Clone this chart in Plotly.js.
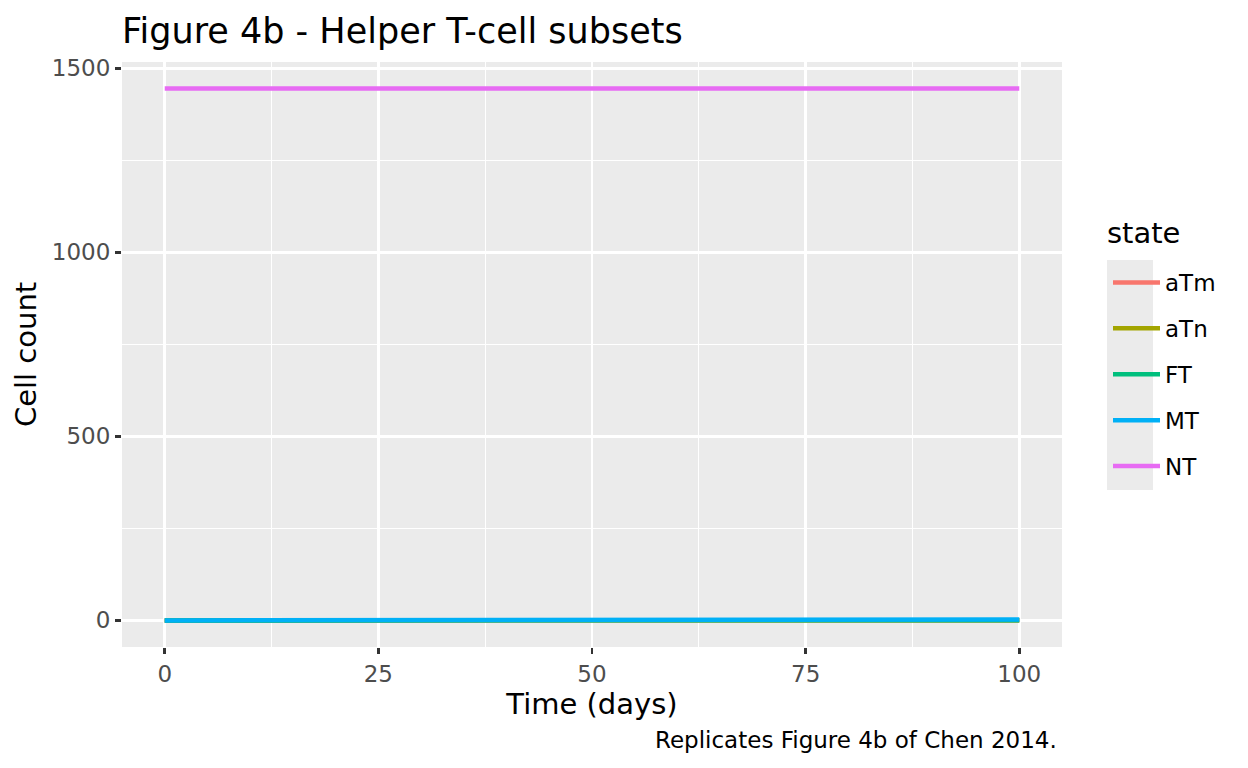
<!DOCTYPE html>
<html>
<head>
<meta charset="utf-8">
<script src="https://cdn.plot.ly/plotly-3.0.1.min.js"></script>
<style>html,body{margin:0;padding:0;background:#fff;}#chart{width:1248px;height:768px;}</style>
</head>
<body>
<div id="chart"></div>
<script>
const time = [0, 10, 20, 30, 40, 50, 60, 70, 80, 90, 95, 100];
const aTm = [0, 0, 0, 0, 0, 0, 0, 0, 0, 0.1, 0.2, 0.4];
const aTn = [0, 0, 0, 0, 0, 0, 0, 0, 0, 0.1, 0.2, 0.3];
const FT  = [0, 0, 0, 0, 0, 0, 0, 0, 0, 0.1, 0.2, 0.3];
const MT  = [0, 0, 0, 0, 0, 0, 0, 0, 0.1, 0.5, 1.2, 2.5];
const NT  = [1445, 1445, 1445, 1445, 1445, 1445, 1445, 1445, 1445, 1445, 1445, 1445];
const stateNames = ["aTm", "aTn", "FT", "MT", "NT"];
const series = [aTm, aTn, FT, MT, NT];
const colors = ["#F8766D", "#A3A500", "#00BF7D", "#00B0F6", "#E76BF3"];
const xTicks = [0, 25, 50, 75, 100];
const yTicks = [0, 500, 1000, 1500];

const font = "DejaVu Sans, sans-serif";
const traces = series.map((vals, i) => ({
  x: time, y: vals, type: "scatter", mode: "lines",
  name: stateNames[i], legendgroup: stateNames[i],
  line: {color: colors[i], width: 4.5},
  hoverinfo: "skip"
}));

const L = 122, R = 1062, T = 62, B = 647;
const pw = R - L, ph = B - T;
const px = v => (v - L) / pw;
const py = v => (B - v) / ph;

const layout = {
  width: 1248, height: 768,
  margin: {l: L, r: 1248 - R, t: T, b: 768 - B},
  paper_bgcolor: "#ffffff", plot_bgcolor: "#EBEBEB",
  font: {family: font, color: "#000"},
  title: {text: "Figure 4b - Helper T-cell subsets", x: 0, xref: "paper", xanchor: "left",
          y: 1 - 31 / 768, yref: "container", yanchor: "middle", pad: {l: 0, t: 0, b: 0, r: 0},
          font: {size: 35, family: font, color: "#000"}},
  xaxis: {
    range: [-5, 105], tickvals: xTicks, ticktext: xTicks.map(String),
    showgrid: true, gridcolor: "#FFFFFF", gridwidth: 2.6, zeroline: false,
    minor: {tickvals: [12.5, 37.5, 62.5, 87.5], showgrid: true, gridcolor: "#FFFFFF", gridwidth: 1.3, ticks: ""},
    ticks: "outside", ticklen: 6, tickwidth: 2.6, tickcolor: "#333333",
    tickfont: {size: 23, color: "#4D4D4D", family: font},
    automargin: true,
    title: {text: "Time (days)", font: {size: 29, color: "#000", family: font}, standoff: 0},
    showline: false
  },
  yaxis: {
    range: [-72.25, 1517.25], tickvals: yTicks, ticktext: yTicks.map(String),
    showgrid: true, gridcolor: "#FFFFFF", gridwidth: 2.6, zeroline: false,
    minor: {tickvals: [250, 750, 1250], showgrid: true, gridcolor: "#FFFFFF", gridwidth: 1.3, ticks: ""},
    ticks: "outside", ticklen: 6, tickwidth: 2.6, tickcolor: "#333333",
    tickfont: {size: 23, color: "#4D4D4D", family: font},
    title: {text: "Cell count", font: {size: 29, color: "#000", family: font}, standoff: 6},
    showline: false
  },
  showlegend: true,
  legend: {
    x: px(1108), xanchor: "left", y: py(261), yanchor: "top",
    bgcolor: "rgba(0,0,0,0)", traceorder: "grouped", tracegroupgap: 13,
    font: {size: 23, family: font, color: "#000"},
    itemwidth: 47
  },
  shapes: [{
    type: "rect", xref: "paper", yref: "paper", layer: "below",
    x0: px(1107), x1: px(1153), y0: py(490), y1: py(260),
    fillcolor: "#EBEBEB", line: {width: 0}
  }],
  annotations: [{
    text: "state", xref: "paper", yref: "paper",
    x: px(1105), xanchor: "left", y: py(233), yanchor: "middle", showarrow: false,
    font: {size: 29, family: font, color: "#000"}
  }, {
    text: "Replicates Figure 4b of Chen 2014.", xref: "paper", yref: "paper",
    x: 1, xanchor: "right", xshift: -3, y: py(740), yanchor: "middle", showarrow: false,
    font: {size: 23, family: font, color: "#000"}
  }]
};

Plotly.newPlot("chart", traces, layout, {displayModeBar: false, staticPlot: true});
</script>
</body>
</html>
